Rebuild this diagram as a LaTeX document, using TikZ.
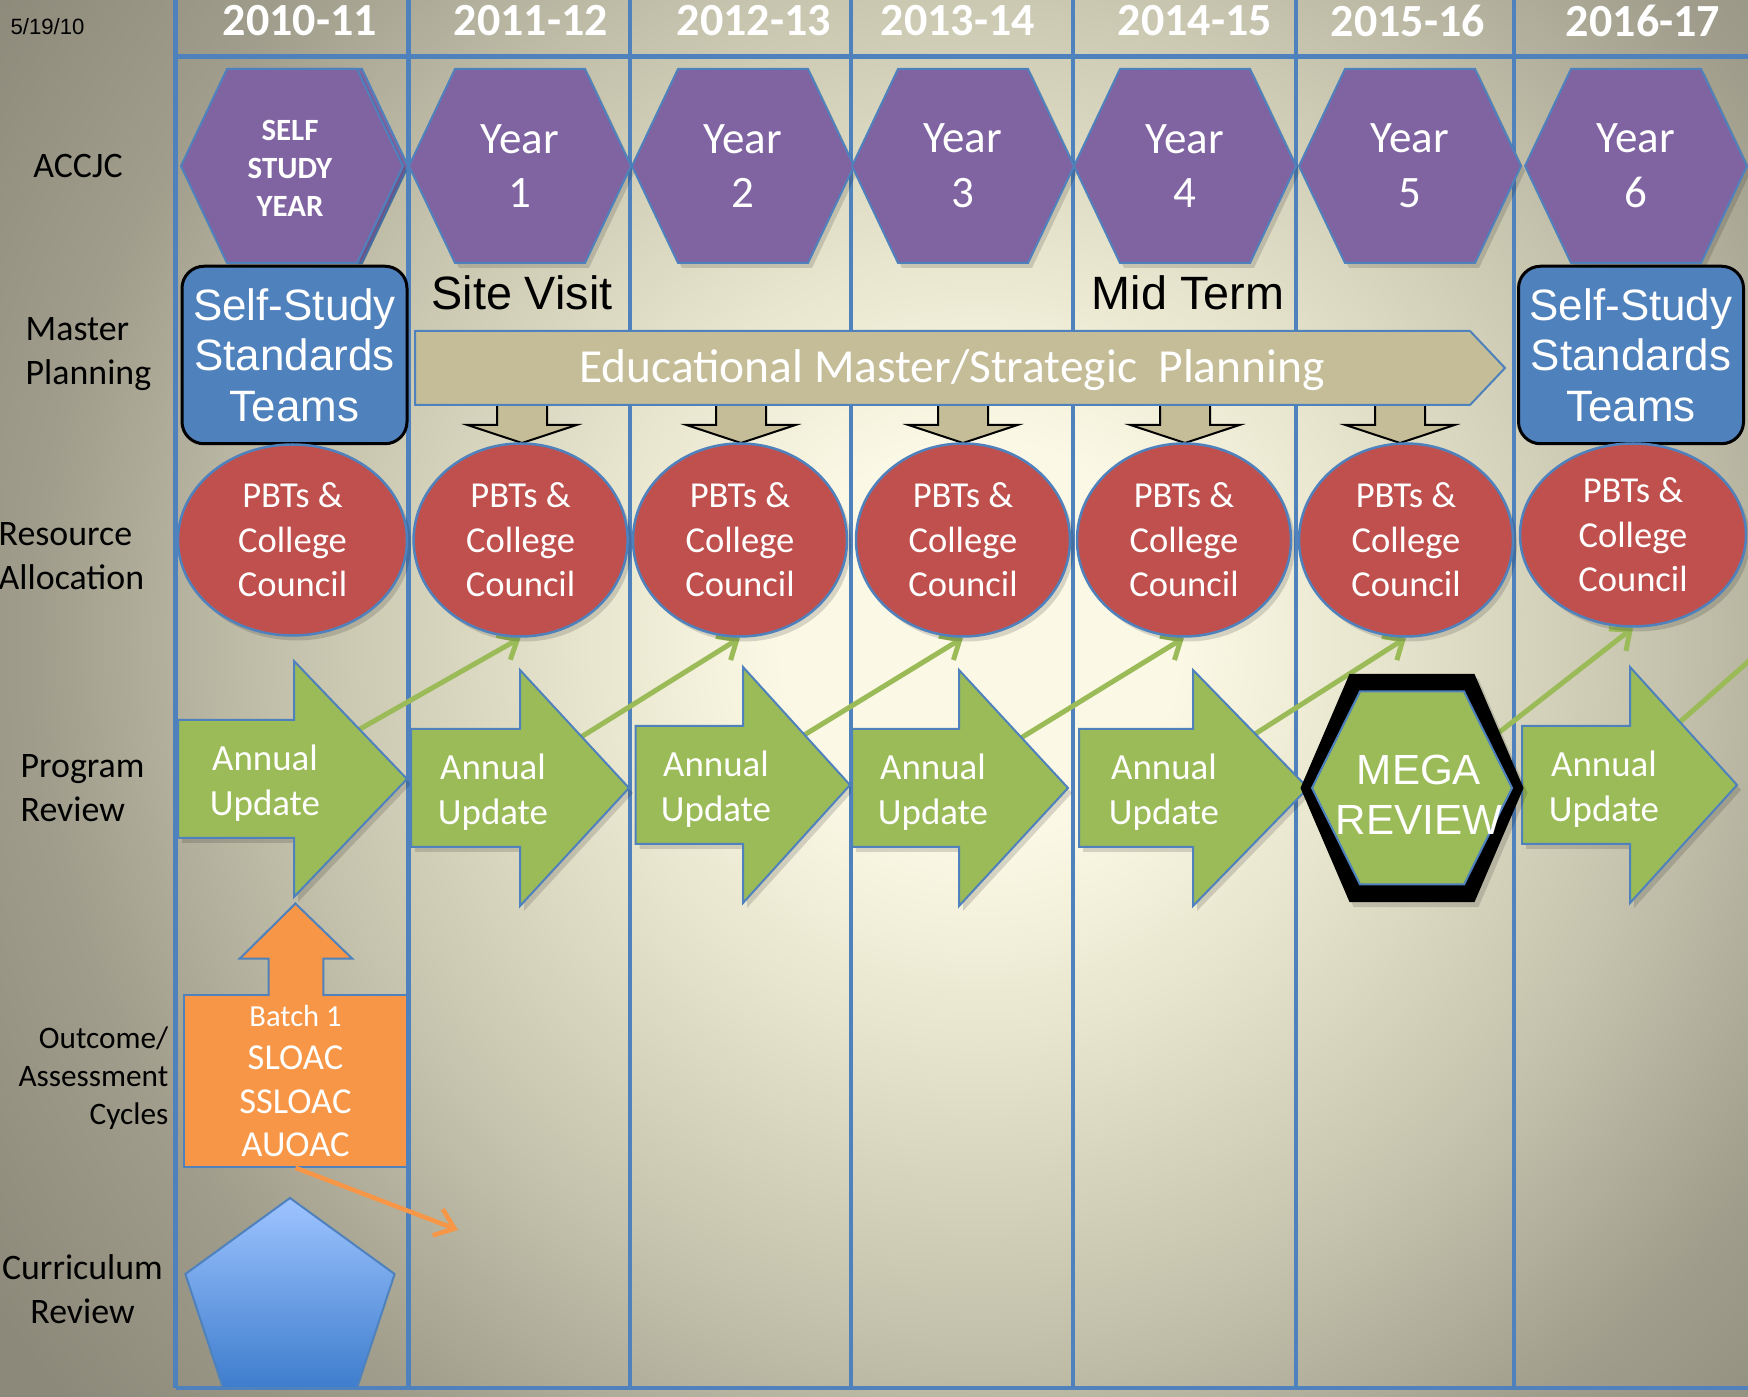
\documentclass[tikz,border=0pt]{standalone}
\usepackage{fontspec}
\setmainfont{Carlito}
\newfontfamily\arialf{Liberation Sans}
\usetikzlibrary{shapes.geometric,arrows.meta,shadows}
\pgfdeclarelayer{back}
\pgfdeclarelayer{links}
\pgfsetlayers{back,links,main}

\begin{document}
\begin{tikzpicture}[x=0.1mm,y=-0.1mm,
  gridline/.style={draw=gridblue,line width=0.45mm},
  yearhead/.style={text=white,inner sep=0,font=\bfseries\fontsize{13.1}{15}\selectfont},
  sidelbl/.style={inner sep=0,font=\fontsize{10.2}{12.5}\selectfont},
  softshadow/.style={drop shadow={opacity=0.14,shadow xshift=0.4mm,shadow yshift=-0.5mm,fill=black}},
  hexa/.style={fill=hexpurple,draw=gridblue,line width=0.2mm,softshadow},
  hextxt/.style={text=white,align=center,inner sep=0,font=\fontsize{12.8}{15.6}\selectfont},
  ssbox/.style={rounded corners=2.2mm,fill=gridblue,draw=black,line width=0.3mm,text=white,
    align=center,inner sep=0,minimum width=22.5mm,minimum height=17.75mm,
    font=\arialf\fontsize{12.5}{14.4}\selectfont},
  eventtxt/.style={inner sep=0,font=\arialf\fontsize{13.3}{15.5}\selectfont},
  downarrow/.style={fill=plantan,draw=black,line width=0.2mm},
  pbt/.style={ellipse,fill=pbtred,draw=gridblue,line width=0.25mm,text=white,align=center,softshadow,
    inner sep=0,minimum width=21.4mm,minimum height=19.3mm,font=\fontsize{10.4}{12.7}\selectfont},
  augshape/.style={fill=augreen,draw=gridblue,line width=0.2mm,softshadow},
  autxt/.style={text=white,align=center,inner sep=0,font=\fontsize{10.5}{12.8}\selectfont},
  grlink/.style={draw=augreen,line width=0.5mm,-{Straight Barb[length=1.6mm,width=2.8mm]}},
  orlink/.style={draw=slorange,line width=0.45mm,-{Straight Barb[length=1.8mm,width=2.8mm]}}]
\definecolor{gridblue}{RGB}{79,129,189}
\definecolor{hexpurple}{RGB}{128,100,162}
\definecolor{pbtred}{RGB}{192,80,77}
\definecolor{augreen}{RGB}{155,187,89}
\definecolor{slorange}{RGB}{247,150,70}
\definecolor{plantan}{RGB}{196,189,151}
\definecolor{pentatop}{RGB}{158,196,255}
\definecolor{pentabot}{RGB}{62,125,205}
\definecolor{bgA}{RGB}{251,248,229}
\definecolor{bgB}{RGB}{232,229,206}
\definecolor{bgC}{RGB}{203,200,178}
\definecolor{bgD}{RGB}{160,157,140}
\definecolor{bgE}{RGB}{140,137,122}
\pgfdeclareradialshading{slidebg}{\pgfpoint{0bp}{0bp}}{color(0bp)=(bgA); color(4bp)=(bgA); color(8bp)=(bgB); color(13bp)=(bgC); color(19bp)=(bgD); color(24bp)=(bgE); color(50bp)=(bgE)}
\useasboundingbox (0,0) rectangle (1748,1397);

% background and year grid
\begin{pgfonlayer}{back}
\clip (0,0) rectangle (1748,1397);
\shade[shading=slidebg] (-260,-600) rectangle (2220,1880);
\draw[gridline] (175.6,56.7) -- (1748,56.7);
\draw[gridline] (175.6,1388) -- (1748,1388);
\foreach \gx in {175.6,408.6,630,851,1073,1296,1514}
  \draw[gridline] (\gx,0) -- (\gx,1388);
\end{pgfonlayer}

\node[inner sep=0,font=\arialf\fontsize{6.3}{7.5}\selectfont] (date) at (47.5,26.3) {5/19/10};
\foreach \yr/\hx [count=\i] in {2010-11/300,2011-12/531,2012-13/754,2013-14/958,2014-15/1195,2015-16/1408,2016-17/1643}
  \node[yearhead] (hd\i) at (\hx,21) {\yr};

% row labels
\node[sidelbl] (lacc) at (78,166) {ACCJC};
\node[sidelbl,anchor=west,align=left] (lmp) at (25,354) {Master\\Planning};
\node[sidelbl,anchor=west,align=left] (lra) at (-2,556) {Resource\\Allocation};
\node[sidelbl,anchor=west,align=left] (lpr) at (20,788) {Program\\Review};
\node[sidelbl,anchor=east,align=right,font=\fontsize{8.9}{10.8}\selectfont] (loa) at (169,1078) {Outcome/\\Assessment\\Cycles};
\node[sidelbl,align=center] (lcr) at (82.5,1289.5) {Curriculum\\Review};

% ACCJC hexagons
\draw[fill=hexpurple,draw=gridblue,line width=0.2mm] (186,166) -- (232,69) -- (362,69) -- (408,166) -- (362,263) -- (232,263) -- cycle;
\draw[hexa] (181,166) -- (227,69) -- (357,69) -- (403,166) -- (357,263) -- (227,263) -- cycle;
\node[hextxt,font=\bfseries\fontsize{8.8}{10.8}\selectfont] (yr0) at (290,168) {SELF\\STUDY\\YEAR};
\foreach \cx/\n in {520/1,743/2,963/3,1185/4,1410/5,1636/6}{
  \draw[hexa] (\cx-111,166) -- (\cx-65,69) -- (\cx+65,69) -- (\cx+111,166) -- (\cx+65,263) -- (\cx-65,263) -- cycle;
  \node[hextxt] (yr\n) at (\cx,166) {Year\\\n};
}

% master planning
\node[eventtxt] (visit) at (522,293) {Site Visit};
\node[eventtxt] (midterm) at (1188,293) {Mid Term};
\node[ssbox] (ss1) at (294.5,355) {Self-Study\\Standards\\Teams};
\node[ssbox] (ss2) at (1631,355) {Self-Study\\Standards\\Teams};
\foreach \ax in {522,741,963,1185,1400}
  \draw[downarrow] (\ax-25,395) -- (\ax+25,395) -- (\ax+25,425) -- (\ax+54.5,425) -- (\ax,443) -- (\ax-54.5,425) -- (\ax-25,425) -- cycle;
\draw[fill=plantan,draw=gridblue,line width=0.2mm] (415,331) -- (1470,331) -- (1505,368) -- (1470,405) -- (415,405) -- cycle;
\node[text=white,inner sep=0,anchor=base,font=\fontsize{13.5}{16}\selectfont] (emp) at (952,383) {Educational Master/Strategic\ \ Planning};

% resource allocation
\node[pbt,minimum width=22.9mm,minimum height=19.1mm] (pbt1) at (292.5,540) {PBTs \&\\College\\Council};
\foreach \px [count=\i from 2] in {520.6,740,963,1184,1406}
  \node[pbt] (pbt\i) at (\px,540) {PBTs \&\\College\\Council};
\node[pbt,minimum width=22.6mm,minimum height=18.3mm] (pbt7) at (1633,535) {PBTs \&\\College\\Council};

% program review
\foreach \L/\H/\T/\ty/\tx [count=\i] in {178/294/407/779/265,411/520/629/788/493,635.5/743/850/785/716,852/959/1068/788/933,1079/1193/1308/788/1164,1522/1630/1737/785/1604}{
  \draw[augshape] (\L,\ty-59) -- (\H,\ty-59) -- (\H,\ty-118) -- (\T,\ty) -- (\H,\ty+118) -- (\H,\ty+59) -- (\L,\ty+59) -- cycle;
  \node[autxt] (au\i) at (\tx,\ty+4) {Annual\\Update};
}
\fill[black,softshadow] (1300.5,788) -- (1349.5,674) -- (1474.5,674) -- (1523.5,788) -- (1474.5,902) -- (1349.5,902) -- cycle;
\draw[fill=augreen,draw=gridblue,line width=0.2mm] (1312,788) -- (1360,691.5) -- (1464,691.5) -- (1512,788) -- (1464,884.5) -- (1360,884.5) -- cycle;
\node[text=white,align=center,inner sep=0,font=\arialf\fontsize{12}{14.2}\selectfont] (mega) at (1419,795) {MEGA\\REVIEW};
\coordinate (beyond) at (1800,616);
\begin{pgfonlayer}{links}
\foreach \i [evaluate=\i as \j using int(\i+1)] in {1,...,5}
  \draw[grlink] (au\i.center) -- (pbt\j.south);
\draw[grlink] (mega.center) -- (pbt7.south);
\draw[grlink] (au6.center) -- (beyond);
\end{pgfonlayer}

% outcome cycles
\node[fill=slorange,draw=gridblue,line width=0.2mm,text=white,align=center,inner sep=0,
  minimum width=22.3mm,minimum height=17.16mm,font=\fontsize{10.4}{12.4}\selectfont] (batch) at (295.5,1081)
  {{\fontsize{8.7}{10.5}\selectfont Batch 1}\\SLOAC\\SSLOAC\\AUOAC};
\fill[slorange] (268.7,998) -- (268.7,958.7) -- (239.7,958.7) -- (295.4,903.5) -- (352.3,958.7) -- (323.3,958.7) -- (323.3,998) -- cycle;
\draw[gridblue,line width=0.2mm] (268.7,996) -- (268.7,958.7) -- (239.7,958.7) -- (295.4,903.5) -- (352.3,958.7) -- (323.3,958.7) -- (323.3,996);
\coordinate (nextcol) at (458,1230);
\draw[orlink] (batch.south) -- (nextcol);

% curriculum review
\draw[top color=pentatop,bottom color=pentabot,draw=gridblue,line width=0.2mm] (290,1198) -- (394.6,1274) -- (357,1388) -- (223,1388) -- (185.4,1274) -- cycle;
\end{tikzpicture}
\end{document}
